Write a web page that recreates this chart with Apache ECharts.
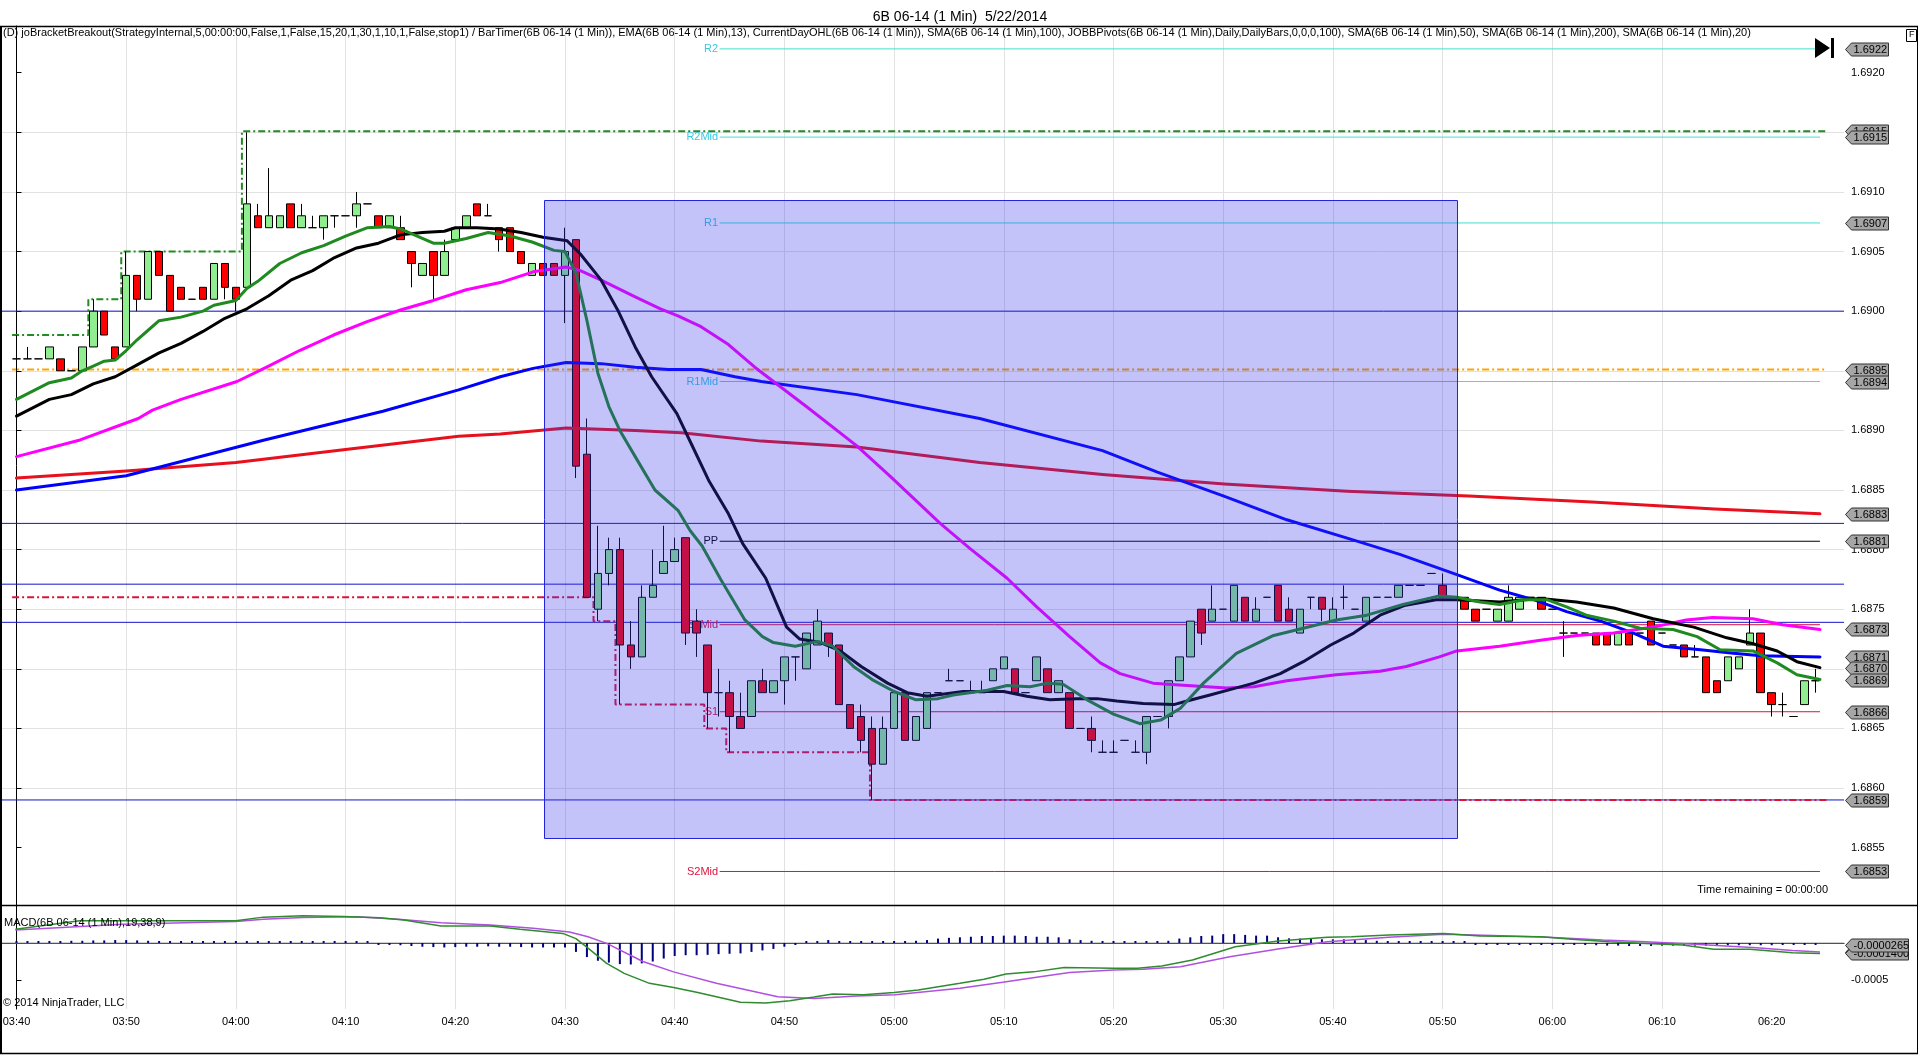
<!DOCTYPE html>
<html><head><meta charset="utf-8">
<script src="https://cdn.jsdelivr.net/npm/echarts@6/dist/echarts.min.js"></script>
<style>html,body{margin:0;padding:0;background:#fff}#c{width:1920px;height:1055px}</style>
</head><body><div id="c"></div>
<script>
// ---------- DATA (x = minutes since 03:40) ----------
const TIME_LABELS = ['03:40','03:50','04:00','04:10','04:20','04:30','04:40','04:50','05:00','05:10','05:20','05:30','05:40','05:50','06:00','06:10','06:20'];
const X_TICKS = TIME_LABELS.map((_, i) => i * 10);
const PRICE_TICKS = [1.6855,1.6860,1.6865,1.6870,1.6875,1.6880,1.6885,1.6890,1.6895,1.6900,1.6905,1.6910,1.6915,1.6920];
const MACD_TICKS = [-0.0005, 0];
const MACD_LABEL_TICKS = [-0.0005];

const OPEN = [
1.6896,1.6896,1.6896,1.6896,1.6896,1.6895,1.6895,1.6897,1.6900,1.6897,
1.6897,1.6903,1.6901,1.6905,1.6903,1.6902,1.6901,1.6902,1.6901,1.6904,
1.6902,1.6902,1.6908,1.6907,1.6907,1.6909,1.6907,1.6907,1.6907,1.6908,
1.6908,1.6908,1.6909,1.6908,1.6907,1.6907,1.6905,1.6903,1.6905,1.6903,
1.6906,1.6907,1.6909,1.6908,1.6907,1.6907,1.6905,1.6903,1.6904,1.6904,
1.6903,1.6906,1.6888,1.6875,1.6878,1.6880,1.6872,1.6871,1.6876,1.6878,
1.6879,1.6881,1.6874,1.6872,1.6868,1.6868,1.6866,1.6866,1.6869,1.6868,
1.6869,1.6871,1.6870,1.6872,1.6873,1.6872,1.6867,1.6866,1.6865,1.6862,
1.6865,1.6868,1.6864,1.6865,1.6868,1.6869,1.6869,1.6868,1.6868,1.6869,
1.6870,1.6870,1.6868,1.6869,1.6870,1.6868,1.6868,1.6865,1.6865,1.6863,
1.6863,1.6864,1.6863,1.6863,1.6866,1.6866,1.6869,1.6871,1.6875,1.6874,
1.6875,1.6874,1.6876,1.6874,1.6876,1.6877,1.6875,1.6873,1.6876,1.6876,
1.6874,1.6876,1.6875,1.6874,1.6876,1.6876,1.6876,1.6877,1.6877,1.6878,
1.6877,1.6876,1.6876,1.6875,1.6875,1.6874,1.6874,1.6875,1.6876,1.6876,
1.6875,1.6873,1.6873,1.6873,1.6873,1.6873,1.6872,1.6873,1.6873,1.6874,
1.6873,1.6872,1.6872,1.6871,1.6871,1.6869,1.6869,1.6870,1.6872,1.6873,
1.6868,1.6867,1.6866,1.6867,1.6869];
const HIGH = [
1.6898,1.6897,1.6896,1.6897,1.6896,1.6895,1.6897,1.6901,1.6900,1.6897,
1.6905,1.6903,1.6905,1.6905,1.6903,1.6902,1.6901,1.6902,1.6904,1.6904,
1.6902,1.6915,1.6909,1.6912,1.6908,1.6909,1.6909,1.6908,1.6908,1.6908,
1.6908,1.6910,1.6909,1.6908,1.6908,1.6908,1.6905,1.6904,1.6905,1.6906,
1.6907,1.6908,1.6909,1.6909,1.6907,1.6907,1.6905,1.6904,1.6904,1.6904,
1.6907,1.6906,1.6891,1.6882,1.6881,1.6881,1.6874,1.6877,1.6880,1.6882,
1.6881,1.6881,1.6875,1.6872,1.6870,1.6869,1.6868,1.6869,1.6870,1.6869,
1.6871,1.6871,1.6873,1.6875,1.6873,1.6872,1.6867,1.6867,1.6866,1.6866,
1.6868,1.6868,1.6866,1.6868,1.6868,1.6870,1.6869,1.6869,1.6869,1.6870,
1.6871,1.6870,1.6868,1.6871,1.6870,1.6869,1.6868,1.6865,1.6866,1.6864,
1.6864,1.6864,1.6864,1.6866,1.6866,1.6869,1.6871,1.6874,1.6875,1.6877,
1.6875,1.6877,1.6876,1.6876,1.6876,1.6877,1.6876,1.6875,1.6876,1.6876,
1.6876,1.6877,1.6875,1.6876,1.6876,1.6876,1.6877,1.6877,1.6877,1.6878,
1.6878,1.6876,1.6876,1.6875,1.6875,1.6875,1.6877,1.6876,1.6876,1.6876,
1.6875,1.6874,1.6873,1.6873,1.6873,1.6873,1.6873,1.6873,1.6873,1.6874,
1.6873,1.6872,1.6872,1.6872,1.6871,1.6869,1.6871,1.6871,1.6875,1.6873,
1.6868,1.6868,1.6866,1.6869,1.6870];
const LOW = [
1.6895,1.6896,1.6896,1.6896,1.6895,1.6895,1.6895,1.6897,1.6898,1.6896,
1.6897,1.6900,1.6901,1.6903,1.6900,1.6901,1.6901,1.6901,1.6901,1.6901,
1.6900,1.6902,1.6907,1.6907,1.6907,1.6907,1.6907,1.6907,1.6906,1.6907,
1.6908,1.6907,1.6909,1.6907,1.6907,1.6906,1.6902,1.6903,1.6901,1.6903,
1.6906,1.6907,1.6908,1.6908,1.6905,1.6905,1.6904,1.6903,1.6903,1.6903,
1.6899,1.6886,1.6876,1.6874,1.6877,1.6867,1.6870,1.6871,1.6876,1.6878,
1.6879,1.6872,1.6871,1.6865,1.6866,1.6863,1.6865,1.6866,1.6868,1.6868,
1.6867,1.6869,1.6870,1.6872,1.6871,1.6867,1.6865,1.6863,1.6859,1.6862,
1.6865,1.6864,1.6864,1.6865,1.6868,1.6869,1.6869,1.6868,1.6868,1.6869,
1.6870,1.6868,1.6868,1.6869,1.6868,1.6868,1.6865,1.6865,1.6863,1.6863,
1.6863,1.6864,1.6863,1.6862,1.6866,1.6865,1.6869,1.6871,1.6872,1.6874,
1.6875,1.6874,1.6874,1.6874,1.6876,1.6874,1.6874,1.6873,1.6875,1.6874,
1.6874,1.6875,1.6875,1.6874,1.6876,1.6876,1.6876,1.6877,1.6877,1.6878,
1.6876,1.6876,1.6875,1.6874,1.6875,1.6874,1.6874,1.6875,1.6876,1.6875,
1.6875,1.6871,1.6873,1.6873,1.6872,1.6872,1.6872,1.6872,1.6873,1.6872,
1.6873,1.6872,1.6871,1.6871,1.6868,1.6868,1.6869,1.6870,1.6872,1.6868,
1.6866,1.6866,1.6866,1.6867,1.6868];
const CLOSE = [
1.6896,1.6896,1.6896,1.6897,1.6895,1.6895,1.6897,1.6900,1.6898,1.6896,
1.6903,1.6901,1.6905,1.6903,1.6900,1.6901,1.6901,1.6901,1.6904,1.6902,
1.6901,1.6909,1.6907,1.6908,1.6908,1.6907,1.6908,1.6907,1.6908,1.6908,
1.6908,1.6909,1.6909,1.6907,1.6908,1.6906,1.6904,1.6904,1.6903,1.6905,
1.6907,1.6908,1.6908,1.6908,1.6906,1.6905,1.6904,1.6904,1.6903,1.6903,
1.6905,1.6887,1.6876,1.6878,1.6880,1.6872,1.6871,1.6876,1.6877,1.6879,
1.6880,1.6873,1.6873,1.6868,1.6868,1.6866,1.6865,1.6869,1.6868,1.6869,
1.6871,1.6871,1.6873,1.6874,1.6872,1.6867,1.6865,1.6864,1.6862,1.6865,
1.6868,1.6864,1.6866,1.6868,1.6868,1.6869,1.6869,1.6868,1.6868,1.6870,
1.6871,1.6868,1.6868,1.6871,1.6868,1.6869,1.6865,1.6865,1.6864,1.6863,
1.6863,1.6864,1.6863,1.6866,1.6866,1.6869,1.6871,1.6874,1.6873,1.6875,
1.6875,1.6877,1.6874,1.6875,1.6876,1.6874,1.6874,1.6875,1.6876,1.6875,
1.6875,1.6876,1.6875,1.6876,1.6876,1.6876,1.6877,1.6877,1.6877,1.6878,
1.6876,1.6876,1.6875,1.6874,1.6875,1.6875,1.6876,1.6876,1.6876,1.6875,
1.6875,1.6873,1.6873,1.6873,1.6872,1.6872,1.6873,1.6872,1.6873,1.6872,
1.6873,1.6872,1.6871,1.6871,1.6868,1.6868,1.6871,1.6871,1.6873,1.6868,
1.6867,1.6867,1.6866,1.6869,1.6869];

// moving averages, read as [minute, price]
const EMA13 = [[0,1.68926],[3,1.6894],[5,1.68944],[6,1.6895],[7,1.68954],[8,1.68958],[9,1.68959],[10,1.68967],[11,1.68976],[12,1.68984],[13,1.68992],[15,1.68995],[17,1.69],[18,1.69005],[20,1.69009],[21,1.69019],[22,1.69025],[24,1.6904],[26,1.69049],[28,1.69055],[30,1.69063],[32,1.6907],[34,1.69071],[35,1.69069],[36,1.69065],[37,1.69061],[38,1.69057],[39,1.69057],[41,1.69061],[43,1.69066],[45,1.69063],[47,1.69058],[49,1.69051],[50,1.6905],[51,1.69032],[52,1.68992],[53,1.68948],[54,1.6892],[55,1.689],[56.4,1.68878],[58.2,1.6885],[60.3,1.68833],[61.4,1.68816],[62.5,1.68803],[64.2,1.68775],[66.4,1.68741],[68,1.68727],[69,1.68722],[71,1.68719],[73,1.68723],[74.4,1.68719],[76.3,1.68702],[78,1.68691],[80,1.68681],[82,1.68674],[84,1.68675],[85.4,1.68678],[88.5,1.68682],[90.3,1.68686],[92.4,1.68685],[94,1.68688],[95.4,1.68687],[97.6,1.68674],[100,1.68662],[102.4,1.68654],[104.3,1.68657],[106.1,1.68667],[108.2,1.68688],[111.2,1.68713],[114.6,1.68728],[117.3,1.68734],[120.3,1.68741],[123.1,1.68745],[126.4,1.68754],[129.6,1.68761],[131.3,1.6876],[133.4,1.68756],[135.2,1.68754],[137.4,1.68758],[139.5,1.68758],[141.3,1.68752],[143.1,1.68745],[145.6,1.6874],[148,1.68734],[151,1.68733],[153.2,1.68727],[155.3,1.68716],[158.3,1.68715],[160.5,1.68705],[162.3,1.68695],[164.4,1.68691]];
const SMA20 = [[0,1.68912],[3,1.68926],[5,1.6893],[7,1.68939],[9,1.68945],[11,1.68955],[13,1.68965],[15,1.68973],[17,1.68983],[19,1.68994],[21,1.69002],[23,1.69013],[25,1.69026],[27,1.69034],[29,1.69045],[31,1.69053],[33,1.69057],[35,1.69064],[37,1.69066],[39,1.69067],[40,1.6907],[42,1.6907],[44,1.69069],[46,1.69066],[48,1.69062],[50.2,1.69059],[51.4,1.69048],[53.3,1.69026],[54.8,1.69001],[56.4,1.6897],[57.9,1.68945],[60.2,1.68914],[61.5,1.68889],[63.1,1.68858],[64.9,1.6883],[66.2,1.68805],[68.3,1.68776],[70.2,1.68735],[71.4,1.68725],[73.3,1.68722],[75.1,1.68715],[77,1.68702],[79.4,1.68688],[81.2,1.6868],[83,1.68677],[86.3,1.68681],[90,1.68681],[92.1,1.68677],[94.2,1.68674],[96.6,1.68675],[98.5,1.68675],[100.3,1.68673],[102.7,1.68671],[105.5,1.6867],[106.7,1.68673],[108.8,1.68678],[111.2,1.68684],[112.8,1.68688],[115.2,1.68696],[117.3,1.68706],[119.8,1.6872],[121.9,1.6873],[124.3,1.68745],[126.5,1.68753],[129.4,1.68758],[131.3,1.68758],[135.2,1.68756],[138.9,1.68759],[142.2,1.68756],[145.6,1.68751],[149.2,1.68742],[152.9,1.68735],[155.9,1.68726],[158.3,1.68721],[160.5,1.68715],[162.3,1.68706],[164.4,1.68701]];
const SMA50 = [[0,1.68878],[5.8,1.68892],[11.1,1.6891],[12.4,1.68917],[15,1.68926],[20.1,1.68941],[22.8,1.68953],[25.8,1.68967],[28.9,1.6898],[31.9,1.68991],[35,1.69001],[38,1.69009],[41,1.69018],[44.1,1.69024],[47.1,1.69033],[50.1,1.69037],[51.4,1.69034],[53.3,1.69026],[56.4,1.69012],[58.7,1.69002],[60.3,1.68996],[62.4,1.68987],[64.9,1.68972],[67.3,1.68953],[72,1.6892],[76.6,1.68887],[79.7,1.68861],[84.2,1.68822],[86.9,1.68801],[90.3,1.68776],[93,1.68752],[96,1.68727],[98.8,1.68705],[100.6,1.68696],[103.6,1.68688],[106.7,1.68686],[110.3,1.68684],[112.8,1.68685],[115.8,1.6869],[120.3,1.68695],[124.3,1.68698],[126.7,1.68702],[129.7,1.6871],[131.3,1.68715],[135.2,1.68719],[138.9,1.68724],[142.2,1.68728],[145.6,1.6873],[149.2,1.68735],[152.2,1.68741],[154.6,1.68743],[158.3,1.68742],[161,1.68737],[164.4,1.68733]];
const SMA100 = [[0,1.6885],[10,1.68862],[22.6,1.68892],[33.4,1.68916],[40.3,1.68934],[44.1,1.68945],[47.1,1.68952],[50.1,1.68957],[53.3,1.68956],[56.4,1.68953],[59.4,1.68951],[62.4,1.68951],[65.5,1.68945],[67.9,1.68941],[76.6,1.6893],[87.8,1.6891],[99,1.68883],[104,1.68865],[110,1.68845],[115.8,1.68825],[121.9,1.68808],[126.1,1.68796],[131.3,1.68779],[135.2,1.68766],[138.3,1.68758],[141.3,1.68748],[144.4,1.6874],[147.4,1.6873],[150.1,1.68719],[153.5,1.68716],[156.5,1.68713],[159,1.68711],[164.4,1.6871]];
const SMA200 = [[0,1.6886],[10,1.68866],[20,1.68873],[30,1.68884],[40.3,1.68895],[44.1,1.68897],[50.1,1.68902],[56.4,1.689],[60.6,1.68898],[67.9,1.68891],[76.6,1.68886],[87.8,1.68873],[99,1.68863],[110.1,1.68855],[121.3,1.68849],[132.4,1.68845],[143.6,1.6884],[154.8,1.68834],[164.4,1.6883]];

// horizontal levels
const BRACKET_LEVELS = [1.6900, 1.68822, 1.68771, 1.68739, 1.68590];
const OPEN_LEVEL = 1.68951;
const DAY_HIGH_TIMES = [-0.4, 6.55, 9.55, 20.55];
const DAY_HIGH_VALUES = [1.6898, 1.6901, 1.6905, 1.69151];
const DAY_LOW_TIMES = [-0.4, 52.6, 54.6, 62.7, 64.7, 77.8];
const DAY_LOW_VALUES = [1.6876, 1.6874, 1.6867, 1.6865, 1.6863, 1.6859];
const LEVEL_START = -0.4, LEVEL_END = 165;
const PIVOT_NAMES = ['R2','R2Mid','R1','R1Mid','PP','S1Mid','S1','S2Mid'];
const PIVOT_VALUES = [1.6922, 1.69146, 1.69074, 1.68941, 1.68807, 1.68737, 1.68664, 1.6853];
const PIVOT_START = 64.1, PIVOT_END = 164.4;
const BOX_TIMES = [48.06, 131.3];
const BOX_PRICES = [1.690936, 1.685588];

// MACD(19,38,9)
const MACD_LINE = [[-0.1,0.000185],[5.75,0.0003],[12.5,0.0003],[20,0.0003],[22.5,0.00035],[26.1,0.00037],[29.8,0.00036],[33.1,0.00034],[35.3,0.00031],[38.7,0.00023],[43.2,0.00023],[45.9,0.000185],[49.8,0.00013],[51,0.00006],[52.1,-0.00007],[53.8,-0.000275],[55.4,-0.00041],[57.7,-0.000545],[59.9,-0.0006],[62.1,-0.00067],[66,-0.0008],[68.3,-0.00081],[70.5,-0.00078],[72.7,-0.00073],[74.4,-0.00069],[77.2,-0.0007],[80,-0.00067],[82.2,-0.000635],[86,-0.000545],[88.2,-0.00049],[90.2,-0.00042],[92.7,-0.00039],[95.5,-0.00033],[100,-0.00034],[102.2,-0.00034],[104.4,-0.00031],[107.2,-0.00023],[111.1,-0.00005],[115,0.000027],[119.5,0.000077],[121.7,0.000085],[125.1,0.00011],[130.1,0.00013],[133.4,0.000095],[139,0.000085],[141.8,0.00005],[145.2,0.000018],[148.5,-0.000005],[151.9,-0.000027],[154.7,-0.000085],[158,-0.000085],[161.9,-0.00013],[164.4,-0.00014]];
const MACD_AVG = [[-0.1,0.000175],[9.7,0.000255],[20,0.00029],[22.5,0.00032],[26.1,0.000345],[30.9,0.000355],[34.8,0.00032],[38.7,0.000275],[43.2,0.000245],[47.1,0.0002],[50.4,0.00015],[52.1,0.000085],[53.8,-0.000005],[57.1,-0.00025],[59.9,-0.00039],[63.8,-0.000545],[69.4,-0.000725],[72.7,-0.00075],[76.6,-0.000715],[80.1,-0.0007],[86,-0.00061],[89.9,-0.00053],[93.3,-0.000455],[96,-0.0004],[100,-0.000365],[102.7,-0.000355],[106.1,-0.00032],[110.6,-0.000185],[115,-0.00008],[119.5,0.000018],[125.1,0.000077],[130.1,0.00012],[134.6,0.0001],[139.6,0.000077],[144.6,0.00004],[148.5,0.000018],[153,-0.000018],[158.6,-0.000063],[161.9,-0.0001],[164.4,-0.00012]];
const MACD_DIFF = [
0.000018,0.00002,0.00002,0.000025,0.000025,0.00003,0.00003,0.000035,0.000035,0.00004,
0.00004,0.000035,0.00003,0.000025,0.00002,0.00002,0.000015,0.000015,0.00001,0.00001,
0,0.00002,0.000025,0.000025,0.00002,0.00002,0.000015,0.000015,0.00001,0.000005,
0,0,0,-0.000005,-0.000005,-0.00003,-0.00004,-0.00005,-0.000055,-0.00006,
-0.000055,-0.00005,-0.00005,-0.000045,-0.00005,-0.00005,-0.000055,-0.00006,-0.00006,-0.00006,
-0.00006,-0.00012,-0.00019,-0.00024,-0.000265,-0.000285,-0.00029,-0.000275,-0.00025,-0.00021,
-0.000175,-0.000165,-0.000165,-0.00016,-0.00015,-0.000145,-0.00014,-0.00012,-0.0001,-0.00008,
-0.00005,-0.00002,0,0.000027,0.00004,0.000027,0.00002,0.000015,0,0,
0.00002,0.00002,0.00003,0.00004,0.00006,0.00007,0.000077,0.000085,0.000095,0.000095,
0.0001,0.0001,0.000095,0.000085,0.000085,0.000077,0.00005,0.00004,0.00003,0.00001,
0.000005,0.000005,0.000005,0.00001,0.00002,0.00003,0.00006,0.000077,0.000095,0.0001,
0.00012,0.00012,0.00011,0.0001,0.0001,0.000077,0.000063,0.00006,0.00006,0.00005,
0.00005,0.00005,0.00004,0.00004,0.00003,0.00002,0.00002,0.000015,0.000015,0.00001,
0.000008,0.000005,0,-0.000005,-0.000005,-0.00001,-0.00001,-0.00001,-0.00001,-0.00001,
-0.000015,-0.000015,-0.00002,-0.000025,-0.00003,-0.000035,-0.000035,-0.00004,-0.00004,-0.00004,
-0.000035,-0.000035,-0.000035,-0.000035,-0.000035,-0.00003,-0.00003,-0.00003,-0.00003,-0.00003,
-0.00003,-0.000025,-0.000025,-0.000025,-0.0000265];

// ---------- LAYOUT ----------
const FONT = '"Liberation Sans", Arial, sans-serif';
const X_MIN = -1.32, X_MAX = 166.59;
const P_MIN = 1.685019, P_MAX = 1.692392;
const M_MIN = -0.000892, M_MAX = 0.000514;
const LEGEND_TEXT = '(D) joBracketBreakout(StrategyInternal,5,00:00:00,False,1,False,15,20,1,30,1,10,1,False,stop1) / BarTimer(6B 06-14 (1 Min)), EMA(6B 06-14 (1 Min),13), CurrentDayOHL(6B 06-14 (1 Min)), SMA(6B 06-14 (1 Min),100), JOBBPivots(6B 06-14 (1 Min),Daily,DailyBars,0,0,0,100), SMA(6B 06-14 (1 Min),50), SMA(6B 06-14 (1 Min),200), SMA(6B 06-14 (1 Min),20)';

const chart = echarts.init(document.getElementById('c'), null, {renderer: 'canvas'});
const series = [];
const last = a => a[a.length - 1][1];

// bracket level lines
BRACKET_LEVELS.forEach(v => series.push({
  type: 'line', xAxisIndex: 0, yAxisIndex: 0, z: 1, silent: true, showSymbol: false,
  lineStyle: {color: '#1414c8', width: 1}, data: [[X_MIN, v], [X_MAX, v]]
}));
// current day open
series.push({type: 'line', xAxisIndex: 0, yAxisIndex: 0, z: 1, silent: true, showSymbol: false,
  lineStyle: {color: '#ffa500', width: 2, type: [7, 3, 2, 3]}, data: [[LEVEL_START, OPEN_LEVEL], [LEVEL_END, OPEN_LEVEL]]});
// current day high / low
function stepData(times, values) {
  const d = times.map((t, i) => [t, values[i]]);
  d.push([LEVEL_END, values[values.length - 1]]);
  return d;
}
series.push({type: 'line', step: 'end', xAxisIndex: 0, yAxisIndex: 0, z: 1, silent: true, showSymbol: false,
  lineStyle: {color: '#228b22', width: 2, type: [7, 3, 2, 3]}, data: stepData(DAY_HIGH_TIMES, DAY_HIGH_VALUES)});
series.push({type: 'line', step: 'end', xAxisIndex: 0, yAxisIndex: 0, z: 1, silent: true, showSymbol: false,
  lineStyle: {color: '#dc143c', width: 2, type: [7, 3, 2, 3]}, data: stepData(DAY_LOW_TIMES, DAY_LOW_VALUES)});
// pivots
PIVOT_NAMES.forEach((name, i) => {
  const v = PIVOT_VALUES[i];
  const color = name === 'PP' ? '#000000' : (name[0] === 'R' ? '#40e0d0' : '#dc143c');
  const lcolor = name === 'PP' ? '#000000' : (name[0] === 'R' ? '#38c8e0' : '#dc143c');
  series.push({
    type: 'line', xAxisIndex: 0, yAxisIndex: 0, z: 1, silent: true,
    symbol: 'circle', symbolSize: 1, showSymbol: true,
    itemStyle: {color: 'rgba(0,0,0,0)'},
    lineStyle: {color, width: 1},
    label: {show: false},
    data: [{value: [PIVOT_START, v], label: {show: true, position: 'left', distance: 1, formatter: name, color: lcolor, fontSize: 11, fontFamily: FONT}}, [PIVOT_END, v]]
  });
});
// candles
series.push({
  type: 'candlestick', xAxisIndex: 0, yAxisIndex: 0, z: 2, silent: true, barWidth: 8,
  itemStyle: {color: '#90ee90', color0: '#ff0000', borderColor: '#000', borderColor0: '#000', borderColorDoji: '#000', borderWidth: 1},
  data: OPEN.map((o, i) => [i, o, CLOSE[i], LOW[i], HIGH[i]])
});
// moving averages
[[SMA200, '#e8101c'], [SMA100, '#0000ff'], [SMA50, '#ff00ff'], [SMA20, '#000000'], [EMA13, '#1f8a1f']].forEach(([d, c]) => series.push({
  type: 'line', xAxisIndex: 0, yAxisIndex: 0, z: 3, silent: true, showSymbol: false, smooth: false,
  lineStyle: {color: c, width: 3, join: 'round', cap: 'round'}, data: d
}));
// bracket box overlay
series.push({
  type: 'custom', xAxisIndex: 0, yAxisIndex: 0, z: 10, silent: true, clip: false,
  encode: {x: [0, 2], y: [1, 3]},
  data: [[BOX_TIMES[0], BOX_PRICES[0], BOX_TIMES[1], BOX_PRICES[1]]],
  renderItem: (params, api) => {
    const p0 = api.coord([api.value(0), api.value(1)]);
    const p1 = api.coord([api.value(2), api.value(3)]);
    return {type: 'rect', shape: {x: Math.round(p0[0]) + 0.5, y: Math.round(p0[1]) + 0.5, width: Math.round(p1[0] - p0[0]), height: Math.round(p1[1] - p0[1])},
      style: {fill: 'rgba(55,55,235,0.30)', stroke: '#2424dc', lineWidth: 1}};
  }
});
// MACD
series.push({type: 'line', xAxisIndex: 1, yAxisIndex: 1, z: 1, silent: true, showSymbol: false,
  lineStyle: {color: '#a0a0a0', width: 1}, data: [[X_MIN, 0], [X_MAX, 0]]});
series.push({type: 'bar', xAxisIndex: 1, yAxisIndex: 1, z: 2, silent: true, barWidth: 2, barMinHeight: 2,
  itemStyle: {color: '#000080'}, data: MACD_DIFF.map((v, i) => [i, v])});
series.push({type: 'line', xAxisIndex: 1, yAxisIndex: 1, z: 3, silent: true, showSymbol: false, smooth: false,
  lineStyle: {color: '#b050e0', width: 1.5}, data: MACD_AVG});
series.push({type: 'line', xAxisIndex: 1, yAxisIndex: 1, z: 3, silent: true, showSymbol: false, smooth: false,
  lineStyle: {color: '#2e8b2e', width: 1.5}, data: MACD_LINE});

// value tags on the right axis
function tagSeries(values, xi, yi, decimals, width) {
  return {
    type: 'custom', xAxisIndex: xi, yAxisIndex: yi, z: 20, silent: true, clip: false,
    data: values.map(v => [X_MAX, v]),
    renderItem: (params, api) => {
      const v = api.value(1);
      const p = api.coord([api.value(0), v]);
      const x = Math.round(p[0]) + 1.5, y = Math.round(p[1]) + 0.5;
      return {type: 'group', children: [
        {type: 'polygon', shape: {points: [[x, y], [x + 6, y - 6.5], [x + width, y - 6.5], [x + width, y + 6.5], [x + 6, y + 6.5]]},
          style: {fill: '#a6a6a6', stroke: '#303030', lineWidth: 1}},
        {type: 'text', style: {x: x + 8, y: y + 0.5, text: v.toFixed(decimals), fill: '#000', font: '11px ' + FONT, textAlign: 'left', textVerticalAlign: 'middle'}}
      ]};
    }
  };
}
const mainTags = [PIVOT_VALUES[0], DAY_HIGH_VALUES[DAY_HIGH_VALUES.length - 1], PIVOT_VALUES[1], PIVOT_VALUES[2], OPEN_LEVEL, PIVOT_VALUES[3],
  last(SMA200), PIVOT_VALUES[4], last(SMA50), last(SMA100), last(SMA20), last(EMA13), PIVOT_VALUES[6], DAY_LOW_VALUES[DAY_LOW_VALUES.length - 1], PIVOT_VALUES[7]];
series.push(tagSeries(mainTags, 0, 0, 4, 43));
series.push(tagSeries([last(MACD_AVG), last(MACD_LINE), MACD_DIFF[MACD_DIFF.length - 1]], 1, 1, 7, 63));

const xAxisCommon = {
  type: 'value', min: X_MIN, max: X_MAX,
  axisTick: {show: false, customValues: X_TICKS},
  splitLine: {show: true, showMinLine: false, showMaxLine: false, lineStyle: {color: '#e2e2e2', width: 1}}
};
const option = {
  animation: false,
  backgroundColor: '#ffffff',
  textStyle: {fontFamily: FONT},
  title: {text: '6B 06-14 (1 Min)  5/22/2014', left: 'center', top: 5, textStyle: {fontSize: 14, fontWeight: 'normal', color: '#000', fontFamily: FONT}},
  grid: [
    {left: 2, top: 26, width: 1842, height: 879, containLabel: false, outerBoundsMode: 'none'},
    {left: 2, top: 905, width: 1842, height: 104, containLabel: false, outerBoundsMode: 'none'}
  ],
  xAxis: [
    Object.assign({}, xAxisCommon, {gridIndex: 0, axisLine: {show: false}, axisLabel: {show: false, customValues: X_TICKS}}),
    Object.assign({}, xAxisCommon, {gridIndex: 1, position: 'bottom', axisLine: {show: true, lineStyle: {color: '#000', width: 1}},
      axisLabel: {show: true, customValues: X_TICKS, margin: 7, fontSize: 11, color: '#000', fontFamily: FONT,
        formatter: v => TIME_LABELS[Math.round(v / 10)] || ''}})
  ],
  yAxis: [
    {type: 'value', gridIndex: 0, position: 'right', min: P_MIN, max: P_MAX,
      axisLine: {show: true, lineStyle: {color: '#000', width: 1}},
      axisTick: {show: true, length: 5, customValues: PRICE_TICKS, lineStyle: {color: '#000'}},
      axisLabel: {show: true, customValues: PRICE_TICKS, margin: 7, fontSize: 11, color: '#000', fontFamily: FONT, formatter: v => v.toFixed(4)},
      splitLine: {show: true, showMinLine: false, showMaxLine: false, lineStyle: {color: '#e2e2e2', width: 1}}},
    {type: 'value', gridIndex: 1, position: 'right', min: M_MIN, max: M_MAX,
      axisLine: {show: true, lineStyle: {color: '#000', width: 1}},
      axisTick: {show: true, length: 5, customValues: MACD_TICKS, lineStyle: {color: '#000'}},
      axisLabel: {show: true, customValues: MACD_LABEL_TICKS, margin: 7, fontSize: 11, color: '#000', fontFamily: FONT, formatter: v => v.toFixed(4)},
      splitLine: {show: true, showMinLine: false, showMaxLine: false, lineStyle: {color: '#e2e2e2', width: 1}}}
  ],
  series,
  graphic: [
    {type: 'line', z: 100, shape: {x1: 0, y1: 26.5, x2: 1918, y2: 26.5}, style: {stroke: '#000', lineWidth: 1.5}},
    {type: 'line', z: 100, shape: {x1: 1, y1: 26, x2: 1, y2: 1054}, style: {stroke: '#000', lineWidth: 2}},
    {type: 'line', z: 100, shape: {x1: 1917.5, y1: 26, x2: 1917.5, y2: 1054}, style: {stroke: '#000', lineWidth: 1}},
    {type: 'line', z: 100, shape: {x1: 0, y1: 905.5, x2: 1918, y2: 905.5}, style: {stroke: '#000', lineWidth: 1.5}},
    {type: 'line', z: 100, shape: {x1: 0, y1: 1053.5, x2: 1918, y2: 1053.5}, style: {stroke: '#000', lineWidth: 1.5}},
    {type: 'text', z: 100, x: 3, y: 27, style: {text: LEGEND_TEXT, font: '11px ' + FONT, fill: '#000'}},
    {type: 'text', z: 100, x: 1828, y: 884, style: {text: 'Time remaining = 00:00:00', font: '11px ' + FONT, fill: '#000', textAlign: 'right'}},
    {type: 'text', z: 100, x: 4, y: 917, style: {text: 'MACD(6B 06-14 (1 Min),19,38,9)', font: '11px ' + FONT, fill: '#000'}},
    {type: 'text', z: 100, x: 3, y: 997, style: {text: '\u00a9 2014 NinjaTrader, LLC', font: '11px ' + FONT, fill: '#000'}},
    {type: 'polygon', z: 100, shape: {points: [[1815, 38], [1815, 58], [1830, 48]]}, style: {fill: '#000'}},
    {type: 'rect', z: 100, shape: {x: 1831, y: 38, width: 3, height: 20}, style: {fill: '#000'}},
    {type: 'rect', z: 100, shape: {x: 1906.5, y: 29.5, width: 10, height: 12}, style: {fill: '#fff', stroke: '#000', lineWidth: 1}},
    {type: 'text', z: 100, x: 1909, y: 30, style: {text: 'F', font: '9px ' + FONT, fill: '#000'}}
  ]
};
chart.setOption(option);
</script></body></html>
